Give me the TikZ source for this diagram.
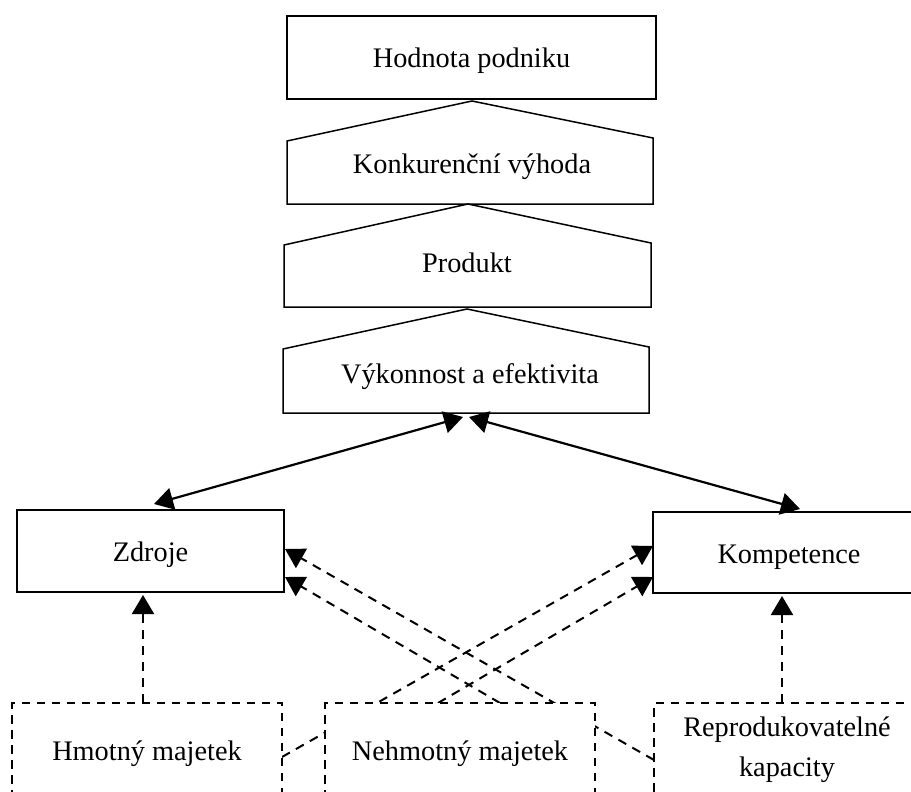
\documentclass[tikz,border=0pt]{standalone}
\usepackage{fontspec}
\setmainfont{Liberation Serif}
\usetikzlibrary{arrows.meta}
\begin{document}
\begin{tikzpicture}[x=1pt,y=-1pt,
  txt/.style={font=\fontsize{28.3}{40}\selectfont, text height=21pt, text depth=0pt, inner sep=0pt},
  box/.style={txt, draw=black, line width=1.6pt, fill=white},
  dbox/.style={txt, draw=black, line width=2pt, fill=white, dash pattern=on 8.5pt off 6.5pt},
  shp/.style={draw=black, line width=1.5pt, line join=miter},
  tipx/.style={-{Triangle[length=19pt,width=22pt]}},
  solidarr/.style={draw=black, line width=2.2pt, {Triangle[length=19pt,width=22pt]}-{Triangle[length=19pt,width=22pt]}},
  dasharr/.style={draw=black, line width=2pt, dash pattern=on 9pt off 7pt, tipx}
]
\clip (0,0) rectangle (911,792);
\fill[white] (0,0) rectangle (911,792);

% top stack
\node[box, minimum width=369pt, minimum height=83pt] (hod) at (471.5,57.5) {Hodnota podniku};
\draw[shp] (287,204) -- (287,141) -- (472,101) -- (653,138) -- (653,204) -- cycle;
\node[txt] (kon) at (472,162.5) {Konkurenční výhoda};
\draw[shp] (284,307) -- (284,245) -- (468,204) -- (651,243) -- (651,307) -- cycle;
\node[txt] (pro) at (467,261.5) {Produkt};
\draw[shp] (283,413) -- (283,349) -- (467,309) -- (649,347) -- (649,413) -- cycle;
\node[txt] (vyk) at (470,372.5) {Výkonnost a efektivita};

% middle boxes
\node[box, minimum width=267pt, minimum height=82pt] (zdr) at (150.5,551) {Zdroje};
\node[box, minimum width=272pt, minimum height=81pt] (kom) at (789,552.5) {Kompetence};

% connector ends
\coordinate (vL) at (463,417);
\coordinate (vR) at (469,417);
\coordinate (zT) at (154,504);
\coordinate (kT) at (800,509);
\coordinate (zB) at (143,595);
\coordinate (kB) at (782,596);
\coordinate (zR1) at (285,549);
\coordinate (zR2) at (285,577);
\coordinate (kL1) at (653,546);
\coordinate (kL2) at (653,577);
\coordinate (hmA) at (143,703);
\coordinate (hmR) at (282,757);
\coordinate (neA) at (438,703);
\coordinate (neB) at (500,703);
\coordinate (reL) at (654,760);
\coordinate (reA) at (782,703);

\draw[solidarr] (vL) -- (zT);
\draw[solidarr] (vR) -- (kT);

\draw[dasharr] (hmA) -- (zB);
\draw[dasharr] (reA) -- (kB);
\draw[dasharr] (hmR) -- (kL1);
\draw[dasharr] (neA) -- (kL2);
\draw[dasharr] (neB) -- (zR2);
\draw[dasharr] (reL) -- (zR1);

% bottom boxes
\node[dbox, minimum width=270pt, minimum height=93pt] (hmo) at (147,749.5) {Hmotný majetek};
\node[dbox, minimum width=270pt, minimum height=93pt] (neh) at (460,749.5) {Nehmotný majetek};
\node[dbox, minimum width=266pt, minimum height=93pt, align=center, text height=, text depth=] (rep) at (787,749.5) {Reprodukovatelné\\kapacity};
\end{tikzpicture}
\end{document}
